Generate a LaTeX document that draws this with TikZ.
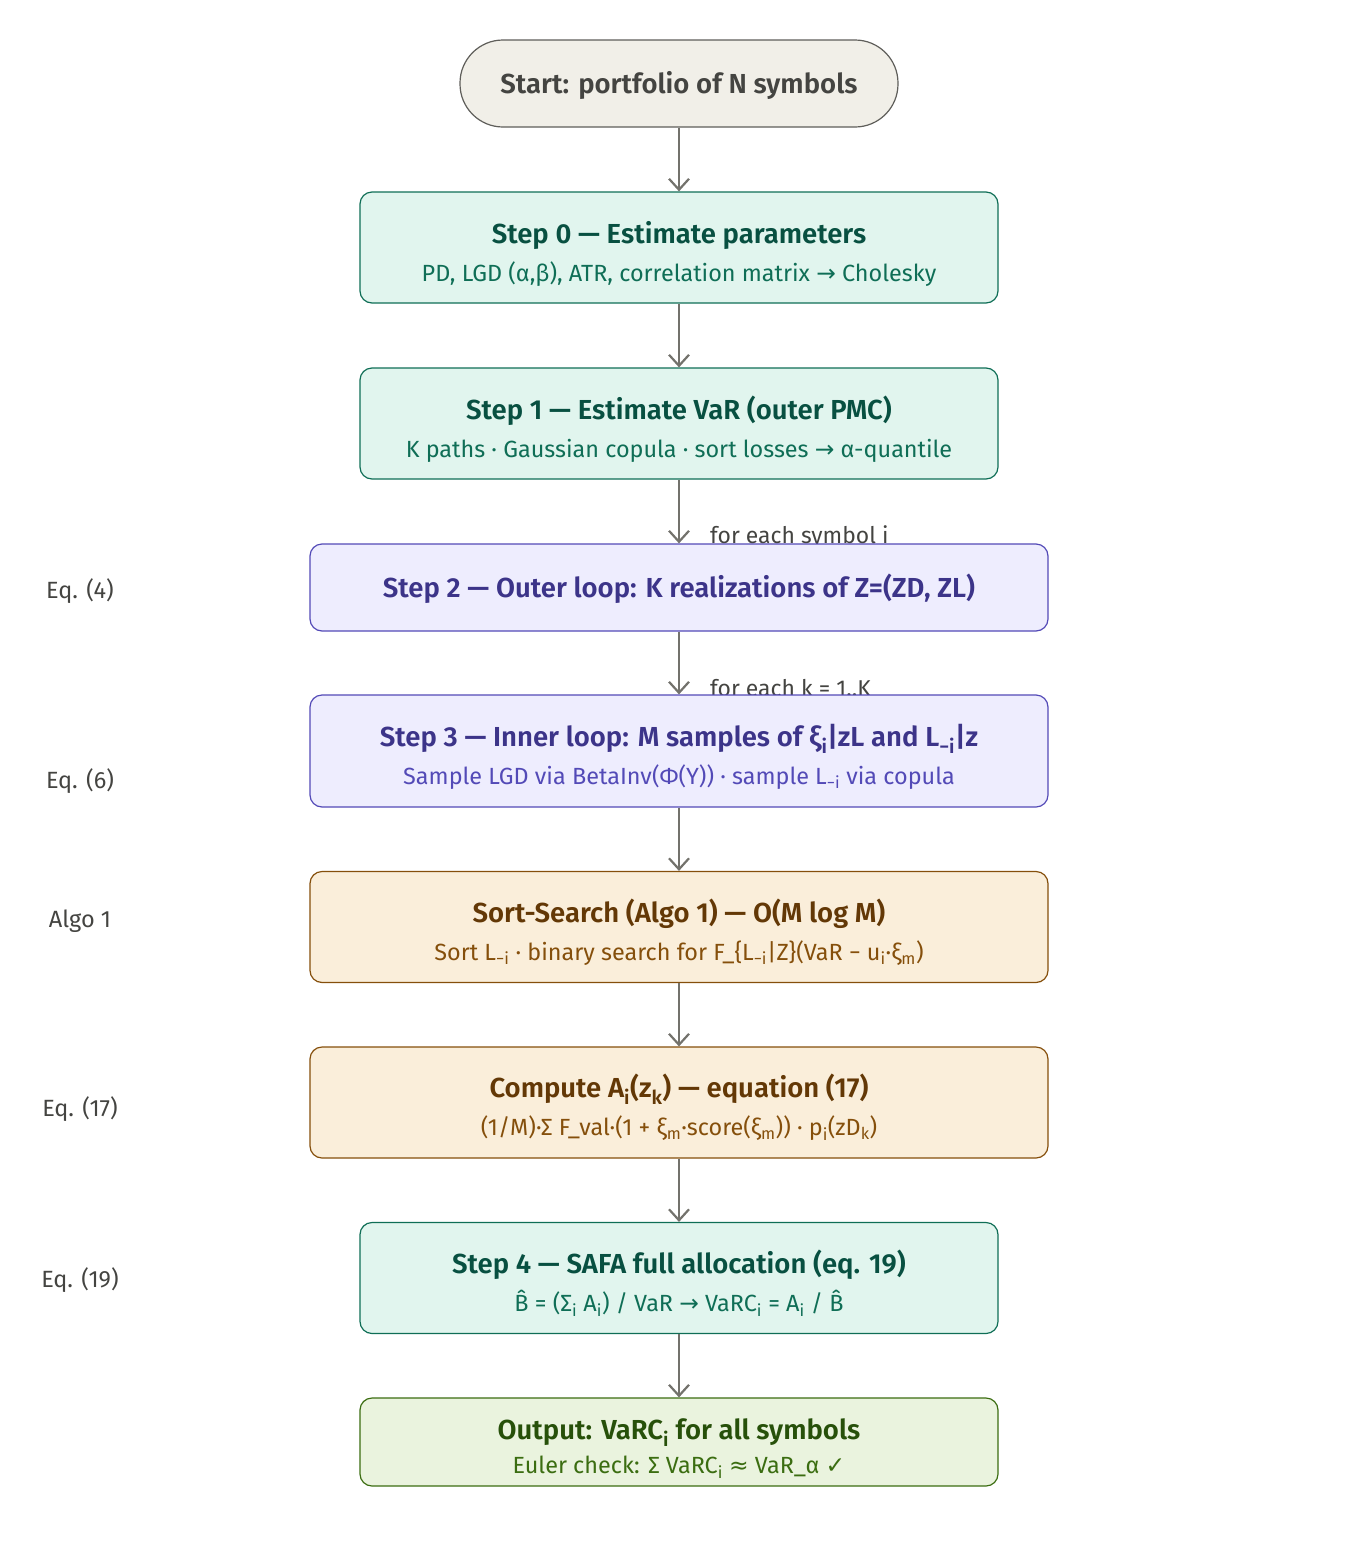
\documentclass[tikz,border=0pt]{standalone}
\usepackage{fontspec}
\setmainfont{Fira Sans}[BoldFont={Fira Sans SemiBold}]
\newfontfamily\symbfont{DejaVu Sans}
\usepackage{tikz}
\usetikzlibrary{arrows.meta}
\usetikzlibrary{positioning}

\definecolor{startfill}{HTML}{F1EFE8}
\definecolor{startline}{HTML}{5F5E5A}
\definecolor{starttext}{HTML}{444441}
\definecolor{greenfill}{HTML}{E1F5EE}
\definecolor{greenline}{HTML}{0F6E56}
\definecolor{greentitle}{HTML}{085041}
\definecolor{greensub}{HTML}{0F6E56}
\definecolor{purplefill}{HTML}{EEEDFE}
\definecolor{purpleline}{HTML}{534AB7}
\definecolor{purpletitle}{HTML}{3C3489}
\definecolor{purplesub}{HTML}{534AB7}
\definecolor{orangefill}{HTML}{FAEEDA}
\definecolor{orangeline}{HTML}{854F0B}
\definecolor{orangetitle}{HTML}{633806}
\definecolor{orangesub}{HTML}{854F0B}
\definecolor{outfill}{HTML}{EAF3DE}
\definecolor{outline}{HTML}{3B6D11}
\definecolor{outtitle}{HTML}{27500A}
\definecolor{outsub}{HTML}{3B6D11}
\definecolor{arrowgray}{HTML}{73726C}
\definecolor{labelgray}{HTML}{444441}

\newcommand{\subline}[2]{{\mdseries\fontsize{23.4}{27}\selectfont\color{#1}#2}}
\newcommand{\rarr}{{\symbfont →}}
\newcommand{\chk}{{\symbfont ✓}}
\newcommand{\approxsym}{{\symbfont ≈}}
\newcommand{\sbs}[1]{\textsubscript{#1}}
\newcommand{\lift}{\rule{0pt}{34pt}}

\pgfdeclarelayer{bg}
\pgfsetlayers{bg,main}

\begin{document}
\begin{tikzpicture}[x=1pt,y=-1pt,->,>={Straight Barb[length=11pt,width=20pt]},
    main box/.style={rectangle,rounded corners=12,line width=1.2pt,align=center,
      font=\bfseries\fontsize{27.5}{31}\selectfont},
    green box/.style={main box,fill=greenfill,draw=greenline,text=greentitle,
      minimum width=638,minimum height=111},
    purple box/.style={main box,fill=purplefill,draw=purpleline,text=purpletitle,
      minimum width=738},
    orange box/.style={main box,fill=orangefill,draw=orangeline,text=orangetitle,
      minimum width=738,minimum height=111},
    out box/.style={main box,fill=outfill,draw=outline,text=outtitle,
      minimum width=638,minimum height=88},
    flow/.style={draw=arrowgray,line width=2.2pt},
    loop label/.style={anchor=west,text=labelgray,font=\fontsize{22.9}{26}\selectfont,inner sep=0pt},
    side label/.style={text=labelgray,font=\fontsize{23.5}{26}\selectfont}]
  \useasboundingbox (0,0) rectangle (1358,1558);

  \node[main box,rounded corners=43,fill=startfill,draw=startline,text=starttext,
    minimum width=438,minimum height=87] (start) at (679,83.5) {\rule{0pt}{27pt}Start: portfolio of N symbols};
  \node[green box] (s0) at (679,247.5)
    {\lift Step 0 — Estimate parameters\\[7pt]\subline{greensub}{PD, LGD (α,β), ATR, correlation matrix \rarr{} Cholesky}};
  \node[green box] (s1) at (679,423.5)
    {\lift Step 1 — Estimate VaR (outer PMC)\\[7pt]\subline{greensub}{K paths · Gaussian copula · sort losses \rarr{} α-quantile}};
  \node[purple box,minimum height=87] (s2) at (679,587.5)
    {\rule{0pt}{27pt}Step 2 — Outer loop: K realizations of Z=(ZD, ZL)};
  \node[purple box,minimum height=112] (s3) at (679,751)
    {\lift Step 3 — Inner loop: M samples of ξ\sbs{i}|zL and L\sbs{−i}|z\\[7pt]\subline{purplesub}{Sample LGD via BetaInv(Φ(Y)) · sample L\sbs{−i} via copula}};
  \node[orange box] (sort) at (679,927)
    {\lift Sort-Search (Algo 1) — O(M log M)\\[7pt]\subline{orangesub}{Sort L\sbs{−i} · binary search for F\_\{L\sbs{−i}|Z\}(VaR − u\sbs{i}·ξ\sbs{m})}};
  \node[orange box] (comp) at (679,1102.5)
    {\lift Compute A\sbs{i}(z\sbs{k}) — equation (17)\\[7pt]\subline{orangesub}{(1/M)·Σ F\_val·(1 + ξ\sbs{m}·score(ξ\sbs{m})) · p\sbs{i}(zD\sbs{k})}};
  \node[green box] (s4) at (679,1278)
    {\lift Step 4 — SAFA full allocation (eq. 19)\\[7pt]\subline{greensub}{\^{B} = (Σ\sbs{i} A\sbs{i}) / VaR \rarr{} VaRC\sbs{i} = A\sbs{i} / \^{B}}};
  \node[out box] (out) at (679,1442)
    {\lift Output: VaRC\sbs{i} for all symbols\\[3pt]\subline{outsub}{Euler check: Σ VaRC\sbs{i} \approxsym{} VaR\_α \chk}};

  % loop labels sit behind the boxes
  \begin{pgfonlayer}{bg}
    \node[loop label] (each sym) at (710,537) {for each symbol i};
    \node[loop label] (each k) at (710,688) {for each k = 1..K};
  \end{pgfonlayer}

  \node[side label] (eq4) at (80,591) {Eq. (4)};
  \node[side label] (eq6) at (80,781) {Eq. (6)};
  \node[side label] (algo1) at (80,921) {Algo 1};
  \node[side label] (eq17) at (80,1109) {Eq. (17)};
  \node[side label] (eq19) at (80,1280) {Eq. (19)};

  \path[flow] (start) edge (s0);
  \path[flow] (s0) edge (s1);
  \path[flow] (s1) edge (s2);
  \path[flow] (s2) edge (s3);
  \path[flow] (s3) edge (sort);
  \path[flow] (sort) edge (comp);
  \path[flow] (comp) edge (s4);
  \path[flow] (s4) edge (out);
\end{tikzpicture}
\end{document}
